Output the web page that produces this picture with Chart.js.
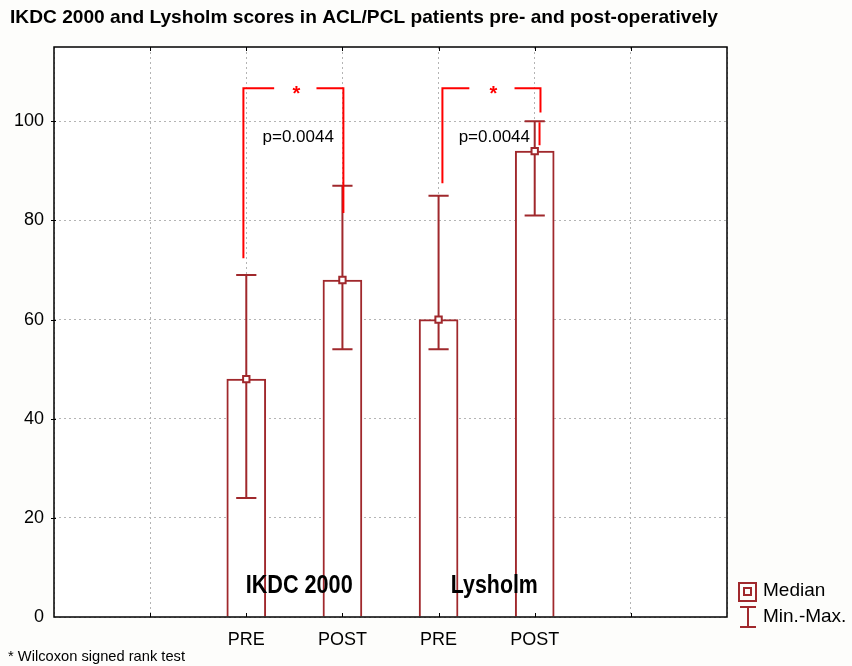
<!DOCTYPE html>
<html>
<head>
<meta charset="utf-8">
<script src="https://cdn.jsdelivr.net/npm/chart.js@4.4.1/dist/chart.umd.min.js"></script>
<style>
  html, body { margin: 0; padding: 0; background: #fdfdfb; }
  #wrap { width: 852px; height: 666px; }
</style>
</head>
<body>
<div id="wrap"><canvas id="scoreChart" width="852" height="666"></canvas></div>
<script>
// x positions 0..7, only the four measured columns carry a label
const xTickLabels = ['', '', 'PRE', 'POST', 'PRE', 'POST', '', ''];
const barX = [2, 3, 4, 5];
const medians = [48, 68, 60, 94];
const mins = [24, 54, 54, 81];
const maxs = [69, 87, 85, 100];

const groupLabels = ['IKDC 2000', 'Lysholm'];
const groupLabelX = [2.55, 4.58];
const groupLabelY = 6.2;

// significance brackets
const bracketTop = 106.7;
const bracketLeftX = [1.97, 4.04];
const bracketRightX = [3.01, 5.06];
const bracketLeftBottom = [72.4, 87.5];
const bracketRightBottom = [81.5, 101.8];
const bracketGapFrom = [2.29, 4.32];
const bracketGapTo = [2.73, 4.79];
const starX = [2.52, 4.57];
const pValues = ['p=0.0044', 'p=0.0044'];
const pValueX = [2.54, 4.58];
const pValueY = 96.8;

const TITLE = 'IKDC 2000 and Lysholm scores in ACL/PCL patients pre- and post-operatively';
const FOOTNOTE = '* Wilcoxon signed rank test';

const DARK_RED = '#a0282c';
const RED = '#ff0000';
const CAP = 0.105;

// no narrow font installed: squeeze Liberation Sans to a target width
function narrowText(ctx, text, x, y, width, align) {
    const w = ctx.measureText(text).width;
    const k = width / w;
    ctx.save();
    ctx.textAlign = 'left';
    let left = x;
    if (align === 'center') left = x - width / 2;
    ctx.translate(left, y);
    ctx.scale(k, 1);
    ctx.fillText(text, 0, 0);
    ctx.restore();
}

document.addEventListener("DOMContentLoaded", () => {
    const ctx = document.getElementById("scoreChart").getContext("2d");

    // whisker lines (min-max), separated by null so they are not joined
    const whiskerData = [];
    barX.forEach((x, i) => {
        whiskerData.push({ x: x, y: mins[i] }, { x: x, y: maxs[i] }, { x: x, y: null });
        whiskerData.push({ x: x - CAP, y: maxs[i] }, { x: x + CAP, y: maxs[i] }, { x: x, y: null });
        whiskerData.push({ x: x - CAP, y: mins[i] }, { x: x + CAP, y: mins[i] }, { x: x, y: null });
    });

    const bracketData = [];
    bracketLeftX.forEach((lx, i) => {
        const rx = bracketRightX[i];
        bracketData.push({ x: lx, y: bracketLeftBottom[i] }, { x: lx, y: bracketTop }, { x: bracketGapFrom[i], y: bracketTop }, { x: lx, y: null });
        bracketData.push({ x: bracketGapTo[i], y: bracketTop }, { x: rx, y: bracketTop }, { x: rx, y: bracketRightBottom[i] }, { x: rx, y: null });
    });
    // red line continuing past the cap on the Lysholm POST column
    bracketData.push({ x: 5.05, y: 99.8 }, { x: 5.05, y: 95.2 });

    const overlay = {
        id: 'overlay',
        afterDatasetsDraw(chart) {
            const { ctx, chartArea: a, scales: { x, y } } = chart;
            ctx.save();
            // frame
            ctx.strokeStyle = '#000';
            ctx.lineWidth = 1.5;
            ctx.strokeRect(a.left, a.top, a.right - a.left, a.bottom - a.top);
            // small inward ticks
            ctx.lineWidth = 1;
            for (let v = 1; v < 7; v++) {
                const px = Math.round(x.getPixelForValue(v)) + 0.5;
                ctx.beginPath(); ctx.moveTo(px, a.bottom); ctx.lineTo(px, a.bottom - 4); ctx.stroke();
                ctx.beginPath(); ctx.moveTo(px, a.top); ctx.lineTo(px, a.top + 4); ctx.stroke();
            }
            for (let v = 20; v <= 100; v += 20) {
                const py = Math.round(y.getPixelForValue(v)) + 0.5;
                ctx.beginPath(); ctx.moveTo(a.left - 3, py); ctx.lineTo(a.left + 2, py); ctx.stroke();
            }
            ctx.fillStyle = '#000';
            ctx.textBaseline = 'middle';

            // title
            ctx.font = 'bold 19px "Liberation Sans"';
            narrowText(ctx, TITLE, 10, 18, 708, 'left');

            // group labels
            ctx.font = 'bold 25px "Liberation Sans"';
            narrowText(ctx, groupLabels[0], x.getPixelForValue(groupLabelX[0]), y.getPixelForValue(groupLabelY), 107, 'center');
            narrowText(ctx, groupLabels[1], x.getPixelForValue(groupLabelX[1]), y.getPixelForValue(groupLabelY), 87, 'center');

            // p values
            ctx.textAlign = 'center';
            ctx.font = '17px "Liberation Sans"';
            pValues.forEach((t, i) => ctx.fillText(t, x.getPixelForValue(pValueX[i]), y.getPixelForValue(pValueY)));
            // stars
            ctx.fillStyle = RED;
            ctx.font = 'bold 20px "Liberation Sans"';
            starX.forEach(sx => ctx.fillText('*', x.getPixelForValue(sx), y.getPixelForValue(bracketTop) + 6));

            // footnote
            ctx.fillStyle = '#000';
            ctx.font = '15px "Liberation Sans"';
            narrowText(ctx, FOOTNOTE, 8, 657, 177, 'left');

            // legend
            ctx.strokeStyle = DARK_RED;
            ctx.lineWidth = 2;
            ctx.strokeRect(739, 583, 17, 18);
            ctx.strokeRect(744, 588, 7, 7);
            ctx.beginPath();
            ctx.moveTo(740, 607); ctx.lineTo(756, 607);
            ctx.moveTo(748, 607); ctx.lineTo(748, 627);
            ctx.moveTo(740, 627); ctx.lineTo(756, 627);
            ctx.stroke();
            ctx.fillStyle = '#000';
            ctx.textAlign = 'left';
            ctx.font = '19px "Liberation Sans"';
            ctx.fillText('Median', 763, 591);
            ctx.fillText('Min.-Max.', 763, 617);
            ctx.restore();
        }
    };

    new Chart(ctx, {
        type: 'bar',
        data: {
            datasets: [
                {
                    type: 'scatter',
                    data: barX.map((x, i) => ({ x: x, y: medians[i] })),
                    pointStyle: 'rect',
                    pointRadius: 4.5,
                    backgroundColor: '#ffffff',
                    borderColor: DARK_RED,
                    borderWidth: 2,
                    order: 1
                },
                {
                    type: 'line',
                    data: bracketData,
                    borderColor: RED,
                    borderWidth: 2,
                    pointRadius: 0,
                    spanGaps: false,
                    order: 2
                },
                {
                    type: 'line',
                    data: whiskerData,
                    borderColor: DARK_RED,
                    borderWidth: 2,
                    pointRadius: 0,
                    spanGaps: false,
                    order: 3
                },
                {
                    type: 'bar',
                    data: barX.map((x, i) => ({ x: x, y: medians[i] })),
                    backgroundColor: '#ffffff',
                    borderColor: DARK_RED,
                    borderWidth: 2,
                    borderSkipped: 'bottom',
                    barThickness: 39,
                    order: 5
                }
            ]
        },
        options: {
            responsive: false,
            animation: false,
            layout: { padding: { left: 8, right: 125, top: 47, bottom: 0 } },
            plugins: {
                legend: { display: false },
                tooltip: { enabled: false },
                title: { display: false }
            },
            scales: {
                x: {
                    type: 'linear',
                    min: 0,
                    max: 7,
                    offset: false,
                    afterFit: s => { s.height = 49; },
                    ticks: {
                        stepSize: 1,
                        autoSkip: false,
                        maxRotation: 0,
                        padding: 12,
                        color: '#000',
                        font: { family: '"Liberation Sans"', size: 18 },
                        callback: v => xTickLabels[v] || ''
                    },
                    grid: { offset: false, color: '#b4b4b4', drawTicks: false },
                    border: { display: false, dash: [2, 3] }
                },
                y: {
                    min: 0,
                    max: 115,
                    afterFit: s => { s.width = 46; },
                    afterBuildTicks: s => { s.ticks = s.ticks.filter(t => t.value <= 100); },
                    ticks: {
                        stepSize: 20,
                        padding: 10,
                        color: '#000',
                        font: { family: '"Liberation Sans"', size: 18 }
                    },
                    grid: { color: '#b4b4b4', drawTicks: false },
                    border: { display: false, dash: [2, 3] }
                }
            }
        },
        plugins: [{
            id: 'plotBg',
            beforeDraw(chart) {
                const { ctx, chartArea: a } = chart;
                ctx.save();
                ctx.fillStyle = '#ffffff';
                ctx.fillRect(a.left, a.top, a.right - a.left, a.bottom - a.top);
                ctx.restore();
            }
        }, overlay]
    });
});
</script>
</body>
</html>
